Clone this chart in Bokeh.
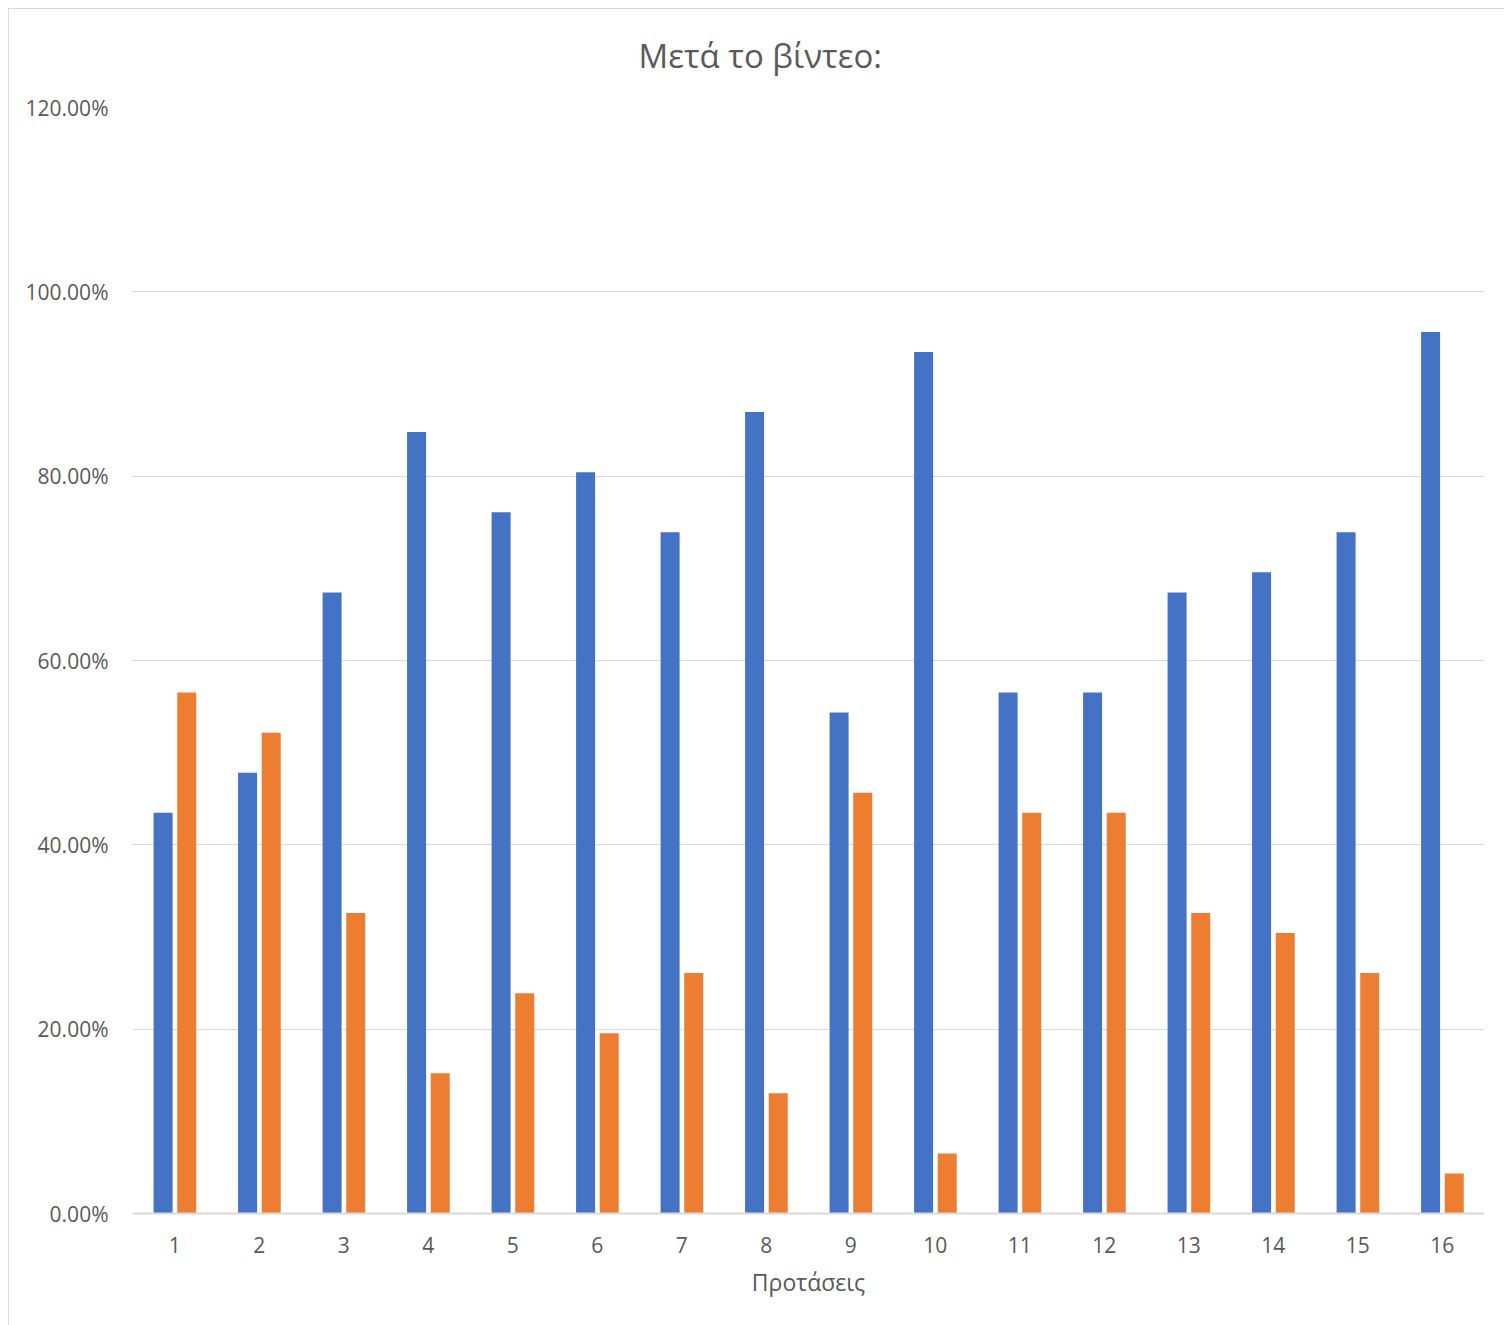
from bokeh.plotting import figure
from bokeh.layouts import column
from bokeh.models import ColumnDataSource, FixedTicker, NumeralTickFormatter, Range1d, Title
from bokeh.transform import dodge
from bokeh.embed import file_html
from bokeh.resources import INLINE

categories = [str(i) for i in range(1, 17)]
series_blue = [0.4348, 0.4783, 0.6739, 0.8478, 0.7609, 0.8043, 0.7391, 0.8696,
               0.5435, 0.9348, 0.5652, 0.5652, 0.6739, 0.6957, 0.7391, 0.9565]
series_orange = [0.5652, 0.5217, 0.3261, 0.1522, 0.2391, 0.1957, 0.2609, 0.1304,
                 0.4565, 0.0652, 0.4348, 0.4348, 0.3261, 0.3043, 0.2609, 0.0435]
y_ticks = [0.0, 0.2, 0.4, 0.6, 0.8, 1.0, 1.2]
title_text = "Μετά το βίντεο:"

xs = list(range(1, len(categories) + 1))
src = ColumnDataSource(dict(x=xs, blue=series_blue, orange=series_orange))

FONT = "Open Sans"
TXT = "#595959"
GRID = "#d9d9d9"

p = figure(width=1496, height=1326, output_backend="svg", toolbar_location=None,
           x_range=Range1d(0.5, len(categories) + 0.5), y_range=Range1d(0, 1.2),
           min_border_left=123, min_border_right=21, min_border_top=107, min_border_bottom=113,
           margin=(-9, 0, 0, 0))

p.vbar(x=dodge("x", -0.138, range=p.x_range), top="blue", width=0.225, source=src,
       fill_color="#4472C4", line_color=None)
p.vbar(x=dodge("x", 0.142, range=p.x_range), top="orange", width=0.225, source=src,
       fill_color="#ED7D31", line_color=None)

p.outline_line_color = None
p.background_fill_color = "white"
p.border_fill_alpha = 0

p.xgrid.grid_line_color = None
p.ygrid.grid_line_color = GRID
p.ygrid.grid_line_width = 1

p.yaxis.ticker = FixedTicker(ticks=y_ticks)
p.yaxis.formatter = NumeralTickFormatter(format="0.00%")
p.yaxis.axis_line_color = None
p.yaxis.major_tick_line_color = None
p.yaxis.minor_tick_line_color = None
p.yaxis.major_label_standoff = 18
p.yaxis.major_label_text_font = FONT
p.yaxis.major_label_text_font_size = "21px"
p.yaxis.major_label_text_color = TXT

p.xaxis.ticker = FixedTicker(ticks=xs)
p.xaxis.major_label_overrides = {x: c for x, c in zip(xs, categories)}
p.xaxis.axis_line_color = GRID
p.xaxis.axis_line_width = 2
p.xaxis.major_tick_line_color = None
p.xaxis.minor_tick_line_color = None
p.xaxis.major_label_standoff = 17
p.xaxis.major_label_text_font = FONT
p.xaxis.major_label_text_font_size = "21px"
p.xaxis.major_label_text_color = TXT
p.xaxis.axis_label = "Προτάσεις"
p.xaxis.axis_label_text_font = FONT
p.xaxis.axis_label_text_font_size = "23px"
p.xaxis.axis_label_text_font_style = "normal"
p.xaxis.axis_label_text_color = TXT
p.xaxis.axis_label_standoff = 10

p.title = Title(text=title_text, align="left", vertical_align="top", text_font=FONT,
                text_font_size="33px", text_font_style="normal", text_color=TXT,
                offset=506, standoff=55)

layout = column(p, margin=(8, 0, 0, 8),
                styles={"border-left": "1px solid #d9d9d9", "border-top": "1px solid #d9d9d9"})

open("out.html", "w").write(file_html(layout, INLINE))
